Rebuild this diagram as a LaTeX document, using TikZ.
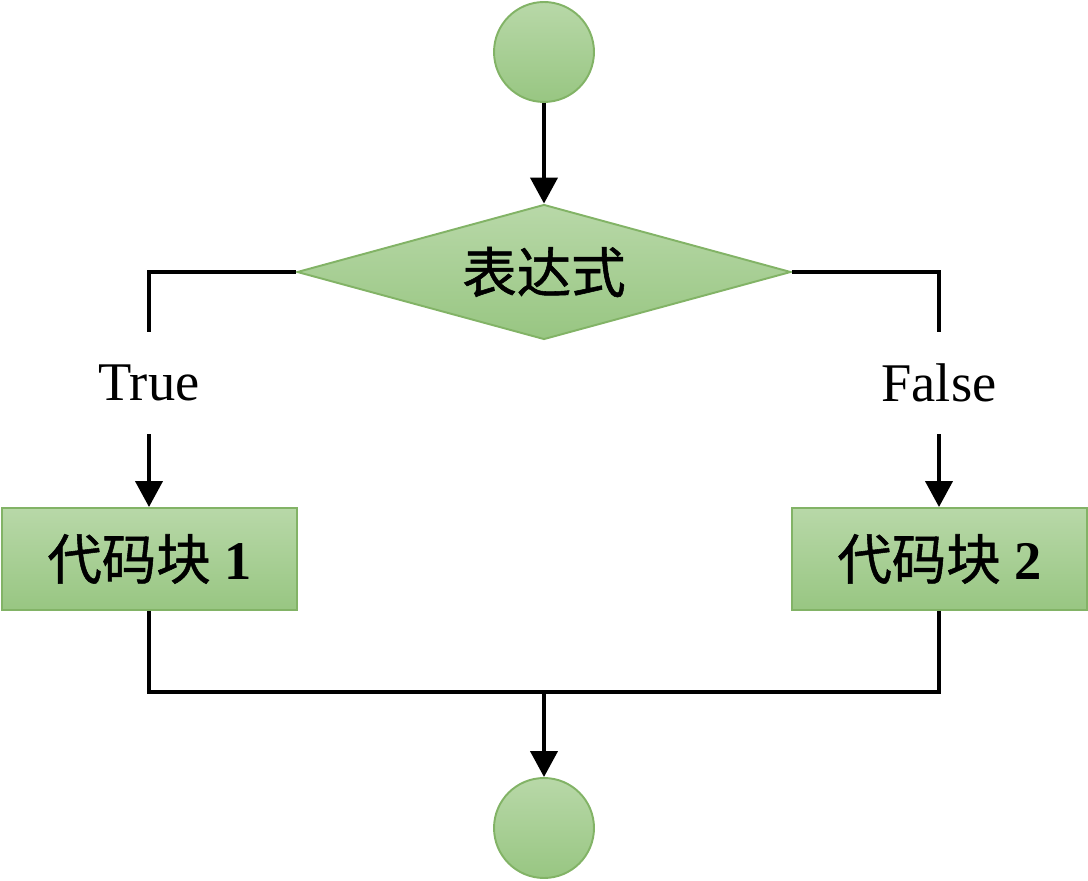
\documentclass[tikz,border=0pt]{standalone}
\usepackage{fontspec}
\setmainfont{Liberation Serif}
\newfontfamily\cjk{Noto Sans CJK SC}[FakeBold=1]
\usetikzlibrary{shapes.geometric,arrows.meta}
\definecolor{gtop}{RGB}{184,216,168}
\definecolor{gbot}{RGB}{152,198,130}
\definecolor{gline}{RGB}{130,179,102}

\begin{document}
\begin{tikzpicture}[x=0.02cm, y=-0.02cm,
    greenfill/.style={draw=gline, line width=1.1pt, top color=gtop, bottom color=gbot, inner sep=0pt},
    term/.style={greenfill, circle, minimum size=2cm},
    cond/.style={greenfill, diamond, aspect=3.66, minimum width=9.88cm, minimum height=2.7cm},
    block/.style={greenfill, rectangle, minimum width=5.9cm, minimum height=2.04cm},
    lbl/.style={inner sep=0pt, minimum height=2.04cm},
    flow/.style={line width=2.3pt},
    arr/.style={flow, -{Triangle[length=0.52cm, width=0.54cm]}},
    font=\fontsize{31}{36}\selectfont]
    \useasboundingbox (0,0) rectangle (1088,881);

    \node[term] (start) at (544,52) {};
    \node[cond] (expr) at (544,272) {\cjk 表达式};
    \node[lbl] (yes) at (149,383) {True};
    \node[lbl] (no) at (939,383) {False};
    \node[block] (code1) at (149.5,559) {{\cjk 代码块} \textbf{1}};
    \node[block] (code2) at (939.5,559) {{\cjk 代码块} \textbf{2}};
    \coordinate (merge) at (544,692);
    \node[term] (stop) at (544,828) {};

    \draw[arr] (start) -- (expr);
    \draw[flow] (expr.west) -| (yes.north);
    \draw[flow] (expr.east) -| (no.north);
    \draw[arr] (yes.south) -- (code1.north -| yes.south);
    \draw[arr] (no.south) -- (code2.north -| no.south);
    \draw[flow] (code1.south -| yes.south) |- (merge);
    \draw[flow] (code2.south -| no.south) |- (merge);
    \draw[arr] (merge) -- (stop);
\end{tikzpicture}
\end{document}
